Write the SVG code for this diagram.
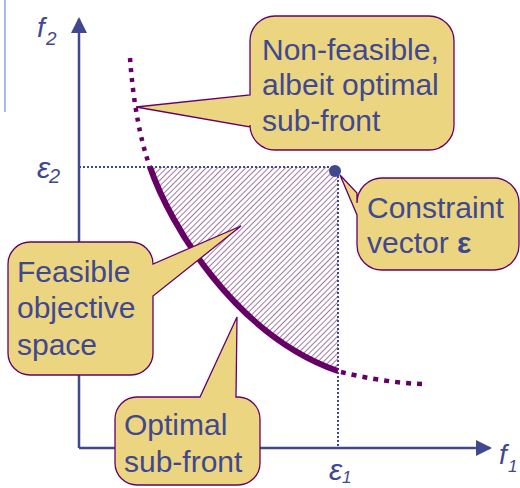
<svg xmlns="http://www.w3.org/2000/svg" width="520" height="488" viewBox="0 0 520 488">
<defs>
<pattern id="hatch" width="4" height="4" patternUnits="userSpaceOnUse" patternTransform="rotate(45)">
<rect width="4" height="4" fill="#ffffff"/>
<line x1="0" y1="0" x2="0" y2="4" stroke="#7a3d80" stroke-width="1.4"/>
</pattern>
<marker id="arr" viewBox="0 0 16 16" refX="14" refY="8" markerWidth="16" markerHeight="16" markerUnits="userSpaceOnUse" orient="auto">
<path d="M0,0 L16,8 L0,16 Z" fill="#404890"/>
</marker>
</defs>
<style>
.axis{stroke:#404890;stroke-width:2.5;fill:none}
.dot{stroke:#404890;stroke-width:2;stroke-dasharray:2 2;fill:none}
.front{stroke:#660066;fill:none}
.call{fill:#ebd580;stroke:#660066;stroke-width:1.3}
.t{font-family:"Liberation Sans",Arial,sans-serif;font-size:30px;fill:#404890}
.lab{font-family:"Liberation Sans",Arial,sans-serif;fill:#404890;font-style:italic}
</style>
<line x1="5" y1="0" x2="5" y2="112" stroke="#7f95ee" stroke-width="1.3"/>
<g id="axes">
<line class="axis" x1="79" y1="448" x2="79" y2="19" marker-end="url(#arr)"/>
<line class="axis" x1="79" y1="448" x2="490" y2="448" marker-end="url(#arr)"/>
<text class="lab" x="37" y="37" font-size="28">f</text>
<text class="lab" x="46" y="45" font-size="19" font-style="normal">2</text>
<text class="lab" x="37" y="178" font-size="30">ε</text>
<text class="lab" x="49" y="183" font-size="20" font-style="normal">2</text>
<text class="lab" x="329" y="480" font-size="30">ε</text>
<text class="lab" x="342" y="483" font-size="17" font-style="normal">1</text>
<text class="lab" x="499" y="464" font-size="28">f</text>
<text class="lab" x="508" y="472" font-size="17" font-style="normal">1</text>
</g>
<g id="feasible-region">
<path d="M150,167 C170,225 235,335 338,371 L338,167 Z" fill="url(#hatch)"/>
</g>
<g id="connectors">
<line class="dot" x1="79" y1="167" x2="335" y2="167"/>
<line class="dot" x1="338" y1="172" x2="338" y2="448"/>
</g>
<g id="front">
<path class="front" d="M130,58 C133,100 140,140 150,167" stroke-width="4.5" stroke-dasharray="4 6"/>
<path class="front" d="M150,167 C170,225 235,335 338,371" stroke-width="6"/>
<path class="front" d="M341,372 C365,378 395,383 422,384" stroke-width="4.5" stroke-dasharray="5 6"/>
</g>
<g id="constraint-point">
<circle cx="335" cy="171" r="6" fill="#404890"/>
</g>
<g id="callout-nonfeasible">
<path class="call" d="M275,16 H429 A25,25 0 0 1 454,41 V125 A25,25 0 0 1 429,150 H275 A25,25 0 0 1 250,125 V127 L136,107 L250,95 V41 A25,25 0 0 1 275,16 Z"/>
<text class="t" x="262" y="60">Non-feasible,</text>
<text class="t" x="262" y="95">albeit optimal</text>
<text class="t" x="262" y="131">sub-front</text>
</g>
<g id="callout-constraint">
<path class="call" d="M382,178 H494 A25,25 0 0 1 519,203 V245 A25,25 0 0 1 494,270 H382 A25,25 0 0 1 357,245 V215 L340,175 L357,193 V203 A25,25 0 0 1 382,178 Z"/>
<text class="t" x="367" y="218">Constraint</text>
<text class="t" x="367" y="253">vector <tspan font-weight="bold">ε</tspan></text>
</g>
<g id="callout-feasible">
<path class="call" d="M30,242 H131 A22,22 0 0 1 153,264 L241,226 L153,296 V353 A22,22 0 0 1 131,375 H30 A22,22 0 0 1 8,353 V264 A22,22 0 0 1 30,242 Z"/>
<text class="t" x="17" y="282">Feasible</text>
<text class="t" x="17" y="318">objective</text>
<text class="t" x="17" y="355">space</text>
</g>
<g id="callout-optimal">
<path class="call" d="M137,397 H200 L237,317 L236,397 H238 A22,22 0 0 1 260,419 V463 A22,22 0 0 1 238,485 H137 A22,22 0 0 1 115,463 V419 A22,22 0 0 1 137,397 Z"/>
<text class="t" x="124" y="435">Optimal</text>
<text class="t" x="124" y="472">sub-front</text>
</g>
</svg>
